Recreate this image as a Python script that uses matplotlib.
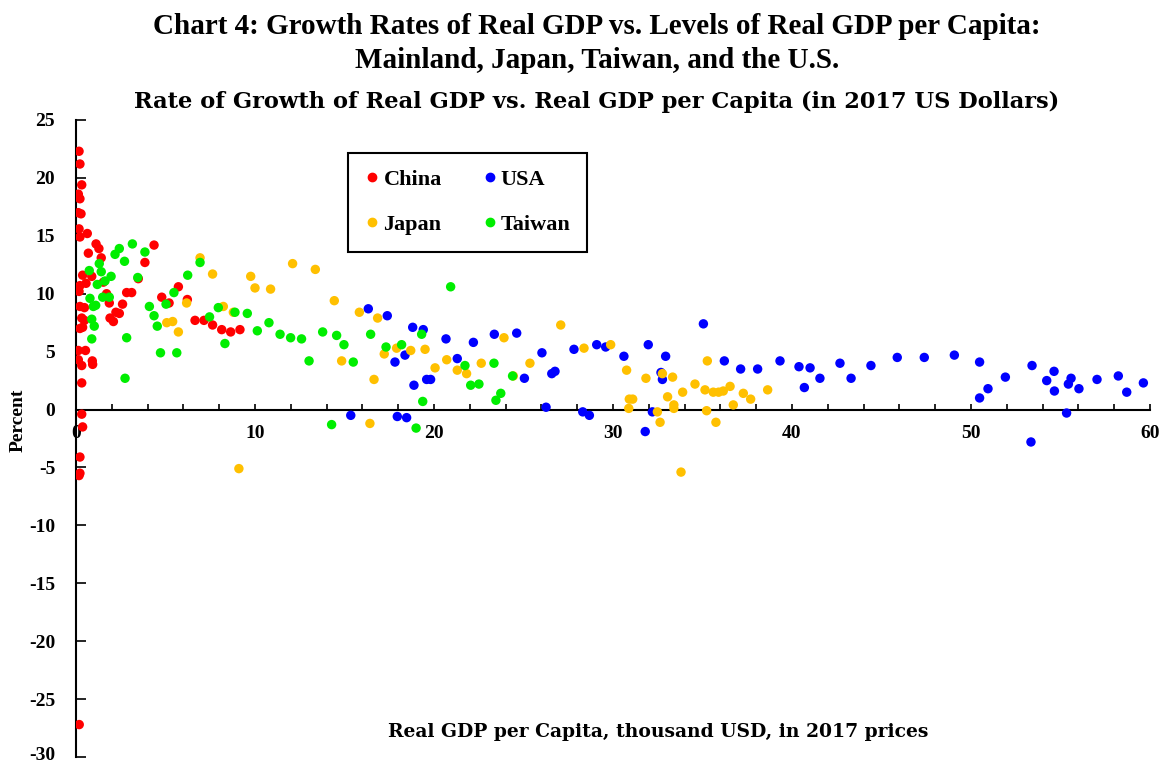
import matplotlib
matplotlib.use("Agg")
import matplotlib.pyplot as plt
import matplotlib.transforms as mtransforms
from matplotlib.lines import Line2D

plt.rcParams['font.family'] = ['Liberation Serif', 'DejaVu Serif']
plt.rcParams['font.weight'] = 'bold'
plt.rcParams['axes.unicode_minus'] = False

china_x = [0.17, 0.22, 0.32, 0.13, 0.22, 0.13, 0.28, 0.17, 0.22, 0.63, 1.12, 1.28, 0.69, 1.41,
           4.36, 3.85, 0.37, 0.88, 0.22, 0.56, 0.17, 1.53, 1.71, 1.86, 3.48, 2.83, 3.11, 2.60,
           2.23, 2.42, 1.90, 2.09, 0.22, 0.47, 0.32, 0.47, 0.22, 0.37, 0.13, 0.53, 0.13, 0.32,
           0.91, 0.93, 0.32, 0.32, 0.37, 0.22, 0.22, 0.17, 0.18, 5.72, 4.79, 5.20, 6.22, 6.65,
           7.15, 7.63, 8.14, 8.64, 9.16]
china_y = [22.3, 21.2, 19.4, 18.6, 18.2, 17.0, 16.9, 15.6, 14.9, 15.2, 14.3, 13.9, 13.5, 13.1,
           14.2, 12.7, 11.6, 11.5, 10.7, 10.9, 10.2, 11.0, 10.0, 9.2, 11.3, 10.1, 10.1, 9.1,
           8.4, 8.3, 7.9, 7.6, 8.9, 8.8, 7.9, 7.7, 7.0, 7.1, 5.1, 5.1, 4.3, 3.8,
           4.2, 3.9, 2.3, -0.4, -1.5, -4.1, -5.5, -5.7, -27.2, 10.6, 9.7, 9.2, 9.5, 7.7,
           7.7, 7.3, 6.9, 6.7, 6.9]

usa_x = [16.33, 17.39, 17.82, 18.38, 18.81, 19.40, 18.88, 19.59, 19.81, 15.35, 17.95, 18.47,
         20.67, 21.30, 22.20, 23.37, 24.62, 25.05, 26.03, 26.58, 26.76, 26.26, 27.82, 29.09,
         29.59, 28.31, 28.68, 30.61, 31.97, 32.94, 32.68, 32.76, 32.20, 31.80, 35.05, 36.22,
         37.13, 38.08, 39.33, 40.39, 41.01, 40.69, 41.56, 42.68, 43.30, 44.41, 45.88, 47.39,
         49.07, 50.48, 50.48, 50.95, 51.92, 53.41, 54.23, 54.64, 54.66, 55.59, 55.44, 56.03,
         55.34, 57.04, 58.23, 58.70, 59.63, 53.35]
usa_y = [8.7, 8.1, 4.1, 4.7, 7.1, 6.9, 2.1, 2.6, 2.6, -0.5, -0.6, -0.7,
         6.1, 4.4, 5.8, 6.5, 6.6, 2.7, 4.9, 3.1, 3.3, 0.2, 5.2, 5.6,
         5.4, -0.2, -0.5, 4.6, 5.6, 4.6, 3.2, 2.6, -0.2, -1.9, 7.4, 4.2,
         3.5, 3.5, 4.2, 3.7, 3.6, 1.9, 2.7, 4.0, 2.7, 3.8, 4.5, 4.5,
         4.7, 4.1, 1.0, 1.8, 2.8, 3.8, 2.5, 3.3, 1.6, 2.7, 2.2, 1.8,
         -0.3, 2.6, 2.9, 1.5, 2.3, -2.8]

japan_x = [6.93, 7.63, 9.76, 10.00, 6.18, 8.23, 8.79, 5.07, 5.40, 5.72, 10.87, 12.10, 13.37,
           14.43, 14.84, 15.83, 16.85, 16.65, 17.22, 17.91, 18.70, 19.50, 16.42, 9.10, 20.06,
           20.71, 21.30, 21.82, 22.64, 23.91, 24.43, 25.36, 27.08, 28.38, 29.87, 30.76, 31.84,
           32.76, 33.33, 33.89, 34.58, 30.91, 31.10, 30.88, 32.48, 32.63, 33.05, 33.40, 33.40,
           35.14, 35.27, 35.60, 35.90, 36.16, 36.54, 37.28, 37.69, 36.72, 38.64, 35.23, 35.75,
           33.80]
japan_y = [13.1, 11.7, 11.5, 10.5, 9.2, 8.9, 8.4, 7.5, 7.6, 6.7, 10.4, 12.6, 12.1,
           9.4, 4.2, 8.4, 7.9, 2.6, 4.8, 5.3, 5.1, 5.2, -1.2, -5.1, 3.6,
           4.3, 3.4, 3.1, 4.0, 6.2, 2.9, 4.0, 7.3, 5.3, 5.6, 3.4, 2.7,
           3.1, 2.8, 1.5, 2.2, 0.9, 0.9, 0.1, -0.2, -1.1, 1.1, 0.4, 0.1,
           1.7, 4.2, 1.5, 1.5, 1.6, 2.0, 1.4, 0.9, 0.4, 1.7, -0.1, -1.1,
           -5.4]

taiwan_x = [3.15, 2.42, 2.18, 2.71, 3.85, 1.30, 0.74, 1.41, 1.96, 3.45, 1.62, 1.19, 6.24,
            6.93, 5.47, 0.78, 1.49, 1.86, 0.97, 1.10, 5.03, 4.10, 4.36, 4.54, 7.95, 7.46,
            9.57, 8.88, 10.13, 0.88, 1.02, 0.88, 2.83, 4.72, 5.63, 8.32, 2.74, 10.78, 11.40,
            11.99, 12.60, 13.02, 13.78, 14.56, 14.97, 15.49, 16.46, 17.32, 18.19, 19.31, 19.37,
            14.28, 19.00, 20.93, 21.73, 22.05, 22.51, 23.35, 23.73, 23.46, 24.39]
taiwan_y = [14.3, 13.9, 13.4, 12.8, 13.6, 12.6, 12.0, 11.9, 11.5, 11.4, 11.1, 10.8, 11.6,
            12.7, 10.1, 9.6, 9.7, 9.7, 8.9, 9.0, 9.1, 8.9, 8.1, 7.2, 8.8, 8.0,
            8.3, 8.4, 6.8, 7.8, 7.2, 6.1, 6.2, 4.9, 4.9, 5.7, 2.7, 7.5, 6.5,
            6.2, 6.1, 4.2, 6.7, 6.4, 5.6, 4.1, 6.5, 5.4, 5.6, 6.5, 0.7,
            -1.3, -1.6, 10.6, 3.8, 2.1, 2.2, 4.0, 1.4, 0.8, 2.9]

series = [("China", china_x, china_y, "#ff0000"),
          ("USA", usa_x, usa_y, "#0000ff"),
          ("Japan", japan_x, japan_y, "#ffc000"),
          ("Taiwan", taiwan_x, taiwan_y, "#00ee00")]

fig = plt.figure(figsize=(11.65, 7.63), dpi=100)
ax = fig.add_axes([76/1165, 1-757/763, (1150-76)/1165, (757-120)/763])

for name, xs, ys, col in series:
    ax.scatter(xs, ys, s=46, color=col, edgecolors='none', zorder=3)

ax.set_xlim(0, 60)
ax.set_ylim(-30, 25)
ax.spines['left'].set_position(('data', 0))
ax.spines['bottom'].set_position(('data', 0))
ax.spines['top'].set_visible(False)
ax.spines['right'].set_visible(False)
for sp in ('left', 'bottom'):
    ax.spines[sp].set_linewidth(1.5)

ax.set_xticks(range(0, 61, 2))
ax.set_xticklabels([str(v) if v % 10 == 0 else '' for v in range(0, 61, 2)])
ax.set_yticks(range(-30, 26, 5))
ax.tick_params(axis='x', direction='in', length=4, width=1.2, pad=11, labelsize=14)
ax.tick_params(axis='y', direction='in', length=7, width=1.2, pad=15, labelsize=14)
for lab in ax.get_xticklabels() + ax.get_yticklabels():
    lab.set_fontweight('bold')

# nudge the lowest y tick label up slightly so it is not clipped at the figure edge
ylabs = ax.get_yticklabels()
ylabs[0].set_transform(ylabs[0].get_transform() +
                       mtransforms.ScaledTranslation(0, 3/100, fig.dpi_scale_trans))

handles = [Line2D([], [], marker='o', linestyle='none', color=c, markersize=6)
           for (_, _, _, c) in [series[0], series[2], series[1], series[3]]]
labels = ["China", "Japan", "USA", "Taiwan"]
leg = ax.legend(handles, labels, ncol=2, loc='upper left',
                bbox_to_anchor=((348-76)/1074, (757-153)/637), borderaxespad=0,
                fancybox=False, frameon=True, edgecolor='black', framealpha=1,
                prop={'weight': 'bold', 'size': 16}, labelspacing=1.1,
                handletextpad=0.15, handlelength=0.7, columnspacing=1.8,
                borderpad=0.75)
leg.get_frame().set_linewidth(1.5)

fig.text(597/1165, 1-26/763, "Chart 4: Growth Rates of Real GDP vs. Levels of Real GDP per Capita:",
         ha='center', va='center', fontsize=21, fontweight='bold')
fig.text(597/1165, 1-61/763, "Mainland, Japan, Taiwan, and the U.S.",
         ha='center', va='center', fontsize=21, fontweight='bold')
fig.text(597/1165, 1-102/763, "Rate of Growth of Real GDP vs. Real GDP per Capita (in 2017 US Dollars)",
         ha='center', va='center', fontsize=16.2, fontweight='bold',
         family=['DejaVu Serif'])
fig.text(658/1165, 1-732/763, "Real GDP per Capita, thousand USD, in 2017 prices",
         ha='center', va='center', fontsize=13.5, fontweight='bold',
         family=['DejaVu Serif'])
fig.text(18/1165, 1-420/763, "Percent", ha='center', va='center', rotation=90,
         fontsize=14, fontweight='bold')

fig.savefig("out.png", dpi=100)
